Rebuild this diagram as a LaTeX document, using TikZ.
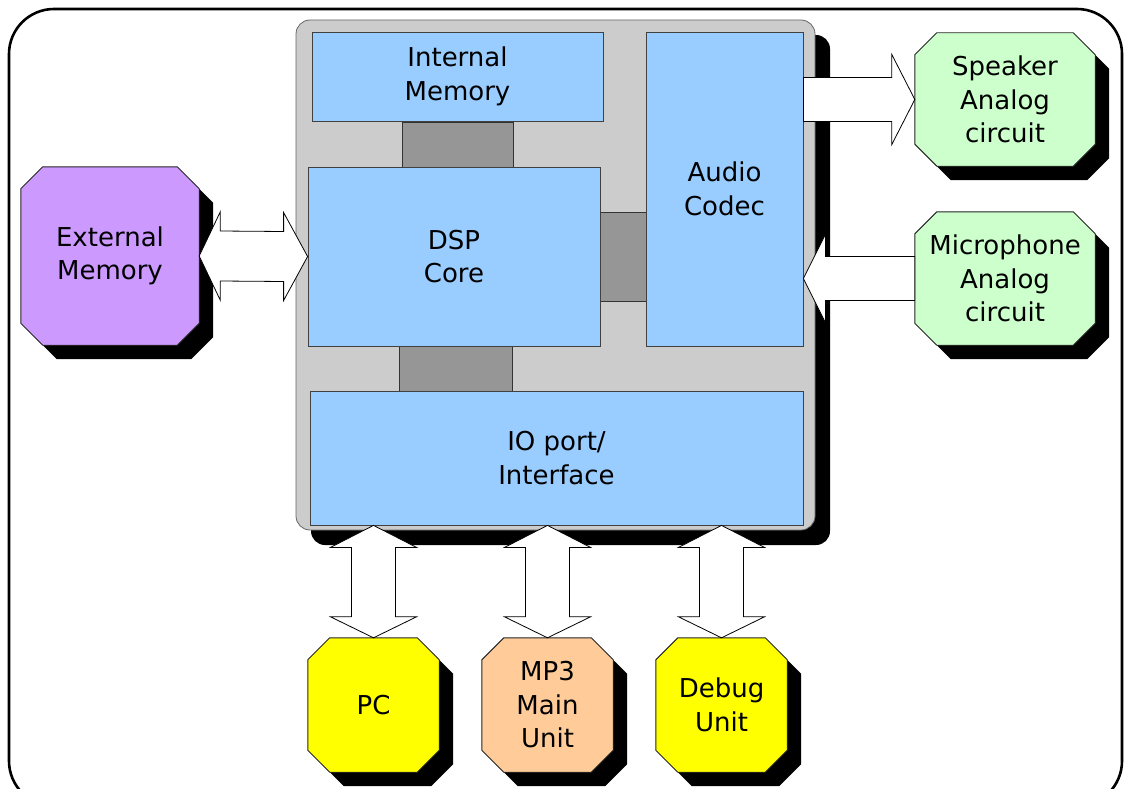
\documentclass[tikz,border=0pt]{standalone}
\usepackage{fontspec}
\setmainfont{DejaVu Sans}
\usetikzlibrary{shadows, calc, backgrounds}
\definecolor{blockblue}{HTML}{99CCFF}
\definecolor{chipgray}{HTML}{CCCCCC}
\definecolor{linkgray}{HTML}{969696}
\definecolor{extpurple}{HTML}{CC99FF}
\definecolor{anagreen}{HTML}{CCFFCC}
\definecolor{pcyellow}{HTML}{FFFF00}
\definecolor{mporange}{HTML}{FFCC99}
% octagon round a node, shifted by #2
\newcommand{\octpath}[2]{($(#1.north west)+(22,0)+(#2)$) -- ($(#1.north east)+(-22,0)+(#2)$)
  -- ($(#1.north east)+(0,22)+(#2)$) -- ($(#1.south east)+(0,-22)+(#2)$)
  -- ($(#1.south east)+(-22,0)+(#2)$) -- ($(#1.south west)+(22,0)+(#2)$)
  -- ($(#1.south west)+(0,-22)+(#2)$) -- ($(#1.north west)+(0,22)+(#2)$) -- cycle}

\begin{document}
\begin{tikzpicture}[x=1pt, y=-1pt,
  font=\fontsize{26}{33.5}\selectfont,
  unit/.style={rectangle, draw=black!75, line width=0.8pt, fill=blockblue, align=center, inner sep=0pt},
  link/.style={rectangle, draw=black!80, line width=0.8pt, fill=linkgray, inner sep=0pt},
  octbox/.style={rectangle, align=center, inner sep=0pt},
  fatarr/.style={draw=black, fill=white, line width=0.8pt, line join=miter},
]
  \useasboundingbox (0,0) rectangle (1126,789);
  \draw[line width=2.6pt, rounded corners=45pt] (9,9) rectangle (1122,806);

  % chip
  \node[rectangle, rounded corners=14pt, draw=black!60, line width=0.8pt, fill=chipgray,
        minimum width=519pt, minimum height=510pt,
        drop shadow={shadow xshift=15pt, shadow yshift=-15pt, fill=black, opacity=1}] (chip) at (555.5,275) {};

  \node[link, minimum width=111pt, minimum height=45pt] (l1) at (457.5,144.5) {};
  \node[link, minimum width=113pt, minimum height=45pt] (l2) at (455.5,368.5) {};
  \node[link, minimum width=46pt, minimum height=89pt]  (l3) at (623,256.5) {};

  \node[unit, minimum width=291pt, minimum height=89pt]  (imem)  at (457.5,76.5) {Internal\\Memory};
  \node[unit, minimum width=292pt, minimum height=179pt] (dsp)   at (454,256.5)  {DSP\\Core};
  \node[unit, minimum width=157pt, minimum height=314pt] (codec) at (724.5,189)  {Audio\\Codec};
  \node[unit, minimum width=493pt, minimum height=134pt] (io)    at (556.5,458)  {IO port/\\Interface};

  % outside blocks
  \node[octbox, minimum width=178pt, minimum height=178pt] (ext) at (110,256)    {External\\Memory};
  \node[octbox, minimum width=180pt, minimum height=133pt] (spk) at (1005,99.5)  {Speaker\\Analog\\circuit};
  \node[octbox, minimum width=180pt, minimum height=133pt] (mic) at (1005,278.5) {Microphone\\Analog\\circuit};
  \node[octbox, minimum width=131pt, minimum height=134pt] (pc)  at (373.5,705)  {PC};
  \node[octbox, minimum width=131pt, minimum height=134pt] (mp3) at (547.5,705)  {MP3\\Main\\Unit};
  \node[octbox, minimum width=131pt, minimum height=134pt] (dbg) at (721.5,705)  {Debug\\Unit};

  \begin{pgfonlayer}{background}
    \foreach \n/\c in {ext/extpurple, spk/anagreen, mic/anagreen, pc/pcyellow, mp3/mporange, dbg/pcyellow} {
      \fill[black] \octpath{\n}{14,14};
      \draw[black!85, line width=0.9pt, fill=\c] \octpath{\n}{0,0};
    }
  \end{pgfonlayer}

  % block arrows
  \draw[fatarr] (ext.east) -- ++(21,-44) -- ++(0,19) -- ($(dsp.west)+(-24,-25)$) -- ++(0,-19) -- (dsp.west)
    -- ++(-24,44) -- ++(0,-19) -- ($(ext.east)+(21,25)$) -- ++(0,19) -- cycle;
  \draw[fatarr] ($(codec.east|-spk.west)+(0,-22)$) -- ($(spk.west)+(-23,-22)$) -- ++(0,-23) -- (spk.west)
    -- ++(-23,45) -- ++(0,-23) -- ($(codec.east|-spk.west)+(0,22)$) -- cycle;
  \draw[fatarr] ($(mic.west)+(0,-22)$) -- ($(codec.east|-mic.west)+(22,-22)$) -- ++(0,-22) -- (codec.east|-mic.west)
    -- ++(22,44) -- ++(0,-22) -- ($(mic.west)+(0,22)$) -- cycle;
  \foreach \n in {pc, mp3, dbg}
    \draw[fatarr] (\n.north|-io.south) -- ++(43,22) -- ++(-21,0) -- ($(\n.north)+(22,-21)$) -- ++(21,0) -- (\n.north)
      -- ++(-43,-21) -- ++(21,0) -- ($(\n.north|-io.south)+(-22,22)$) -- ++(-21,0) -- cycle;
\end{tikzpicture}
\end{document}
